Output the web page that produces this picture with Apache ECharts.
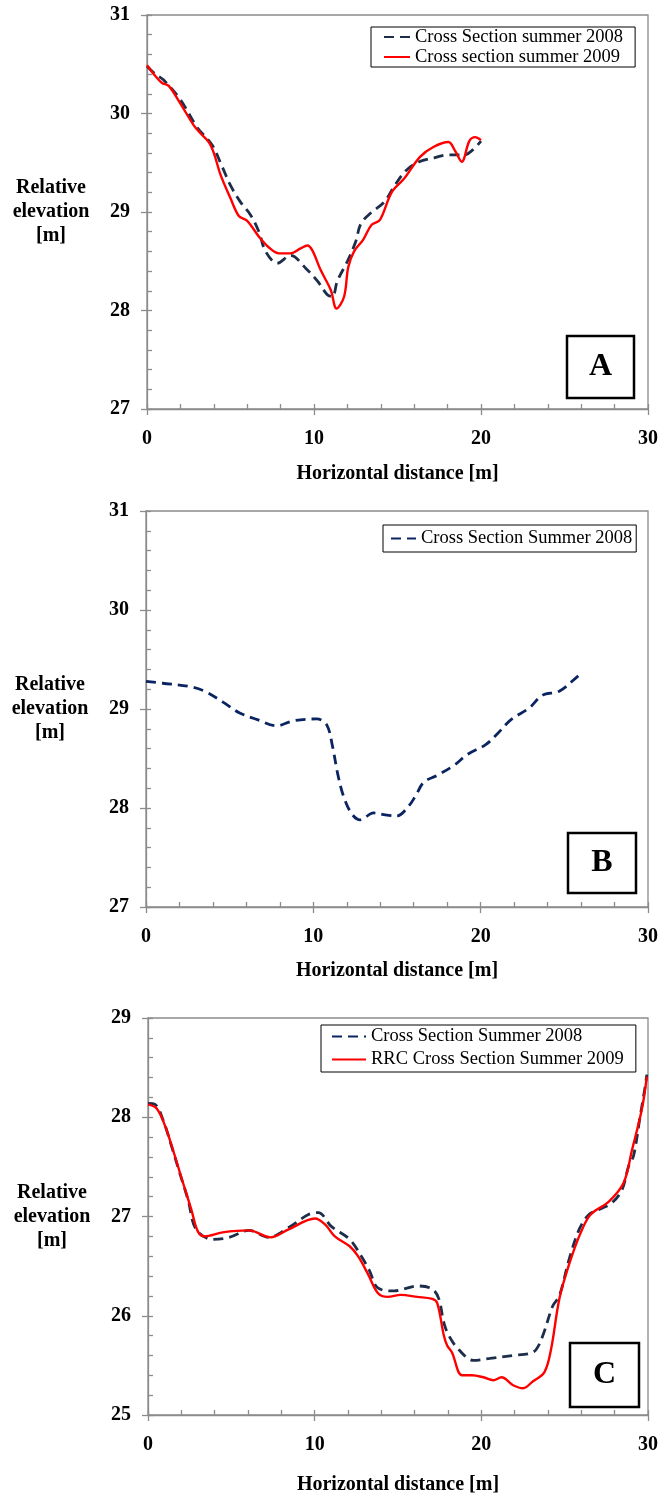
<!DOCTYPE html>
<html>
<head>
<meta charset="utf-8">
<script src="https://cdn.jsdelivr.net/npm/echarts@6/dist/echarts.min.js"></script>
<style>
html,body{margin:0;padding:0;background:#fff;}
#chart{width:661px;height:1496px;}
</style>
</head>
<body>
<div id="chart"></div>
<script>
// ---- Chart A ----
const distA2008 = [0,0.5,1,2,3,3.9,4.5,5,5.6,6.2,6.7,7.1,7.8,8.6,9.5,10.2,10.8,11.1,11.4,12,12.5,12.8,13.4,14.2,14.8,15.5,16.3,17.2,18,19,19.5,20];
const elevA2008 = [30.48,30.4,30.34,30.14,29.86,29.68,29.46,29.27,29.1,28.97,28.8,28.6,28.48,28.56,28.43,28.3,28.16,28.14,28.3,28.5,28.7,28.88,28.99,29.1,29.26,29.42,29.51,29.55,29.58,29.58,29.63,29.72];
const distA2009 = [0,0.5,0.9,1.3,2,2.8,3.2,3.7,4,4.4,5,5.5,6,6.7,7.3,7.9,8.6,9.2,9.6,9.9,10.4,11,11.35,11.8,12.05,12.4,12.95,13.45,13.95,14.65,15.4,16.35,17.15,18.05,18.45,18.85,19.3,19.65,20];
const elevA2009 = [30.49,30.38,30.31,30.28,30.1,29.88,29.8,29.71,29.6,29.38,29.14,28.96,28.91,28.75,28.64,28.58,28.58,28.63,28.66,28.61,28.41,28.21,28.02,28.14,28.44,28.6,28.72,28.87,28.92,29.2,29.34,29.56,29.66,29.71,29.62,29.51,29.72,29.76,29.73];
// ---- Chart B ----
const distB2008 = [0,1,2.5,3.5,4.6,5.6,6.7,7.8,8.8,10.2,10.8,11.15,11.45,11.8,12.3,12.8,13.6,14.3,15,15.7,16.1,16.6,17.4,18.4,19.2,20.3,21,21.8,22.9,23.7,24.7,25.8,26];
const elevB2008 = [29.28,29.26,29.23,29.18,29.07,28.96,28.89,28.83,28.88,28.9,28.84,28.62,28.35,28.12,27.94,27.88,27.95,27.93,27.92,28.02,28.12,28.26,28.33,28.43,28.54,28.64,28.75,28.89,29.01,29.14,29.18,29.33,29.36];
// ---- Chart C ----
const distC2008 = [0,0.42,0.91,1.41,1.9,2.4,2.89,3.88,4.87,6.06,7.25,8.44,9.63,10.22,11,12.1,12.8,13.3,13.79,14.78,15.37,16.16,17.05,17.45,17.75,18.05,18.64,19.53,20.52,21.91,22.89,23.29,23.69,24.29,24.68,25.27,25.87,26.46,27.06,27.85,28.44,28.84,29.13,29.53,29.83,29.93];
const elevC2008 = [28.14,28.13,27.97,27.71,27.44,27.17,26.87,26.77,26.79,26.86,26.79,26.89,27.02,27.04,26.9,26.77,26.6,26.45,26.28,26.25,26.27,26.3,26.27,26.17,25.93,25.8,25.66,25.55,25.57,25.6,25.62,25.66,25.8,26.1,26.2,26.57,26.87,27.02,27.07,27.14,27.27,27.51,27.61,28.01,28.31,28.43];
const distC2009 = [0,0.51,1.01,1.5,2.1,2.6,2.99,3.39,4.47,6.06,7.35,8.44,10.02,10.62,11.21,12.1,12.6,13.2,13.79,14.38,15.17,16.16,17.05,17.35,17.75,17.95,18.24,18.84,19.43,20.12,20.72,21.21,21.91,22.5,23.1,23.78,24.18,24.68,25.27,25.97,26.56,27.65,28.54,29.04,29.63,29.93];
const elevC2009 = [28.13,28.09,27.92,27.67,27.34,27.07,26.85,26.8,26.84,26.86,26.79,26.87,26.98,26.92,26.8,26.7,26.6,26.42,26.23,26.19,26.21,26.19,26.17,26.13,25.8,25.7,25.63,25.4,25.4,25.38,25.35,25.38,25.3,25.27,25.34,25.43,25.66,26.17,26.52,26.84,27.02,27.15,27.34,27.67,28.08,28.41];

const xTicks = [0,10,20,30];
const yTicksAB = [27,28,29,30,31];
const yTicksC = [25,26,27,28,29];

const namesA = ['Cross Section summer 2008','Cross section summer 2009'];
const namesB = ['Cross Section Summer 2008'];
const namesC = ['Cross Section Summer 2008','RRC Cross Section Summer 2009'];
const yName = 'Relative\nelevation\n[m]';
const xName = 'Horizontal distance [m]';
const panelLetters = ['A','B','C'];

const zip = (xs, ys) => xs.map((x, i) => [x, ys[i]]);

const FONT = '"Liberation Serif", "Times New Roman", serif';
const AXIS_GRAY = '#8c8c8c';
const NAVY = '#1c2e4a';
const NAVY_B = '#0a2462';
const RED = '#ff0000';

function xAxisDef(gridIndex, nameGap) {
  return {
    type: 'value', gridIndex, position: 'bottom', min: xTicks[0], max: xTicks[xTicks.length-1], interval: 10,
    name: xName, nameLocation: 'middle', nameGap,
    nameTextStyle: {fontFamily: FONT, fontWeight: 'bold', fontSize: 20, color: '#000'},
    axisLine: {show: true, onZero: false, lineStyle: {color: AXIS_GRAY, width: 1.3}},
    axisTick: {show: true, inside: false, length: 6, lineStyle: {color: AXIS_GRAY, width: 1.3}},
    splitLine: {show: false},
    axisLabel: {fontFamily: FONT, fontWeight: 'bold', fontSize: 20, color: '#000', margin: 20}
  };
}
function xMinorDef(gridIndex) {
  return {
    type: 'value', gridIndex, position: 'bottom', min: 0, max: 30, interval: 2,
    axisLine: {show: false, onZero: false},
    axisTick: {show: true, inside: true, length: 5, lineStyle: {color: AXIS_GRAY, width: 1.3}},
    axisLabel: {show: false}, splitLine: {show: false}
  };
}
function yAxisDef(gridIndex, ticks) {
  return {
    type: 'value', gridIndex, position: 'left', min: ticks[0], max: ticks[ticks.length-1], interval: 1,
    name: yName, nameLocation: 'middle', nameGap: 96, nameRotate: 0,
    nameTextStyle: {fontFamily: FONT, fontWeight: 'bold', fontSize: 20, color: '#000', align: 'center', lineHeight: 24},
    axisLine: {show: true, onZero: false, lineStyle: {color: AXIS_GRAY, width: 1.3}},
    axisTick: {show: true, inside: false, length: 6, lineStyle: {color: AXIS_GRAY, width: 1.3}},
    splitLine: {show: false},
    axisLabel: {fontFamily: FONT, fontWeight: 'bold', fontSize: 20, color: '#000', margin: 17}
  };
}
function yMinorDef(gridIndex, ticks) {
  return {
    type: 'value', gridIndex, position: 'left', min: ticks[0], max: ticks[ticks.length-1], interval: 0.2,
    axisLine: {show: false, onZero: false},
    axisTick: {show: true, inside: true, length: 5, lineStyle: {color: AXIS_GRAY, width: 1.3}},
    axisLabel: {show: false}, splitLine: {show: false}
  };
}
function lineSeries(name, xi, data, color, dashed) {
  return {
    type: 'line', name, xAxisIndex: xi, yAxisIndex: xi, data,
    smooth: 0.35, symbol: 'none', showSymbol: false,
    lineStyle: {color, width: dashed ? 2.8 : 2.4, type: dashed ? [10, 6] : 'solid'},
    itemStyle: {color},
    z: dashed ? 3 : 4
  };
}
function legendDef(names, left, top, padding, itemWidth, lineHeight) {
  return {
    data: names, orient: 'vertical', left, top, padding, itemGap: 0,
    itemWidth, itemHeight: 14, borderColor: '#000', borderWidth: 1, borderRadius: 0,
    backgroundColor: '#fff', selectedMode: false,
    itemStyle: {opacity: 0},
    textStyle: {fontFamily: FONT, fontSize: 18.5, color: '#000', lineHeight}
  };
}
function panelBox(letter, x, y, w, h) {
  return [
    {
      type: 'rect', z: 100,
      shape: {x, y, width: w, height: h},
      style: {fill: '#fff', stroke: '#000', lineWidth: 2.5}
    },
    {
      type: 'text', z: 101, x: x + w / 2, y: y + h / 2,
      style: {text: letter, font: 'bold 32px ' + FONT, fill: '#000',
        textAlign: 'center', textVerticalAlign: 'middle', align: 'center', verticalAlign: 'middle'}
    }
  ];
}

const chart = echarts.init(document.getElementById('chart'), null, {renderer: 'canvas'});
chart.setOption({
  animation: false,
  backgroundColor: '#fff',
  grid: [
    {left: 147, top: 15, width: 501, height: 394, show: true, borderColor: AXIS_GRAY, borderWidth: 1.3, backgroundColor: 'transparent'},
    {left: 146, top: 511, width: 503, height: 396, show: true, borderColor: AXIS_GRAY, borderWidth: 1.3, backgroundColor: 'transparent'},
    {left: 148, top: 1018, width: 505, height: 398, show: true, borderColor: AXIS_GRAY, borderWidth: 1.3, backgroundColor: 'transparent'}
  ],
  xAxis: [xAxisDef(0, 55), xAxisDef(1, 54), xAxisDef(2, 60), xMinorDef(0), xMinorDef(1), xMinorDef(2)],
  yAxis: [yAxisDef(0, yTicksAB), yAxisDef(1, yTicksAB), yAxisDef(2, yTicksC), yMinorDef(0, yTicksAB), yMinorDef(1, yTicksAB), yMinorDef(2, yTicksC)],
  legend: [
    legendDef(namesA, 371, 27, [0, 12, 0, 12], 26, 20),
    legendDef(namesB, 383, 525, [3, 4, 3, 7], 25, 21),
    legendDef(namesC, 321, 1025, [0, 12, 1, 10], 34, 23)
  ],
  series: [
    lineSeries(namesA[0], 0, zip(distA2008, elevA2008), NAVY, true),
    lineSeries(namesA[1], 0, zip(distA2009, elevA2009), RED, false),
    lineSeries(namesB[0], 1, zip(distB2008, elevB2008), NAVY_B, true),
    lineSeries(namesC[0], 2, zip(distC2008, elevC2008), NAVY, true),
    lineSeries(namesC[1], 2, zip(distC2009, elevC2009), RED, false)
  ],
  graphic: [].concat(
    panelBox(panelLetters[0], 567, 336, 67, 62),
    panelBox(panelLetters[1], 568, 833, 68, 60),
    panelBox(panelLetters[2], 570, 1343, 69, 64)
  )
});
</script>
</body>
</html>
